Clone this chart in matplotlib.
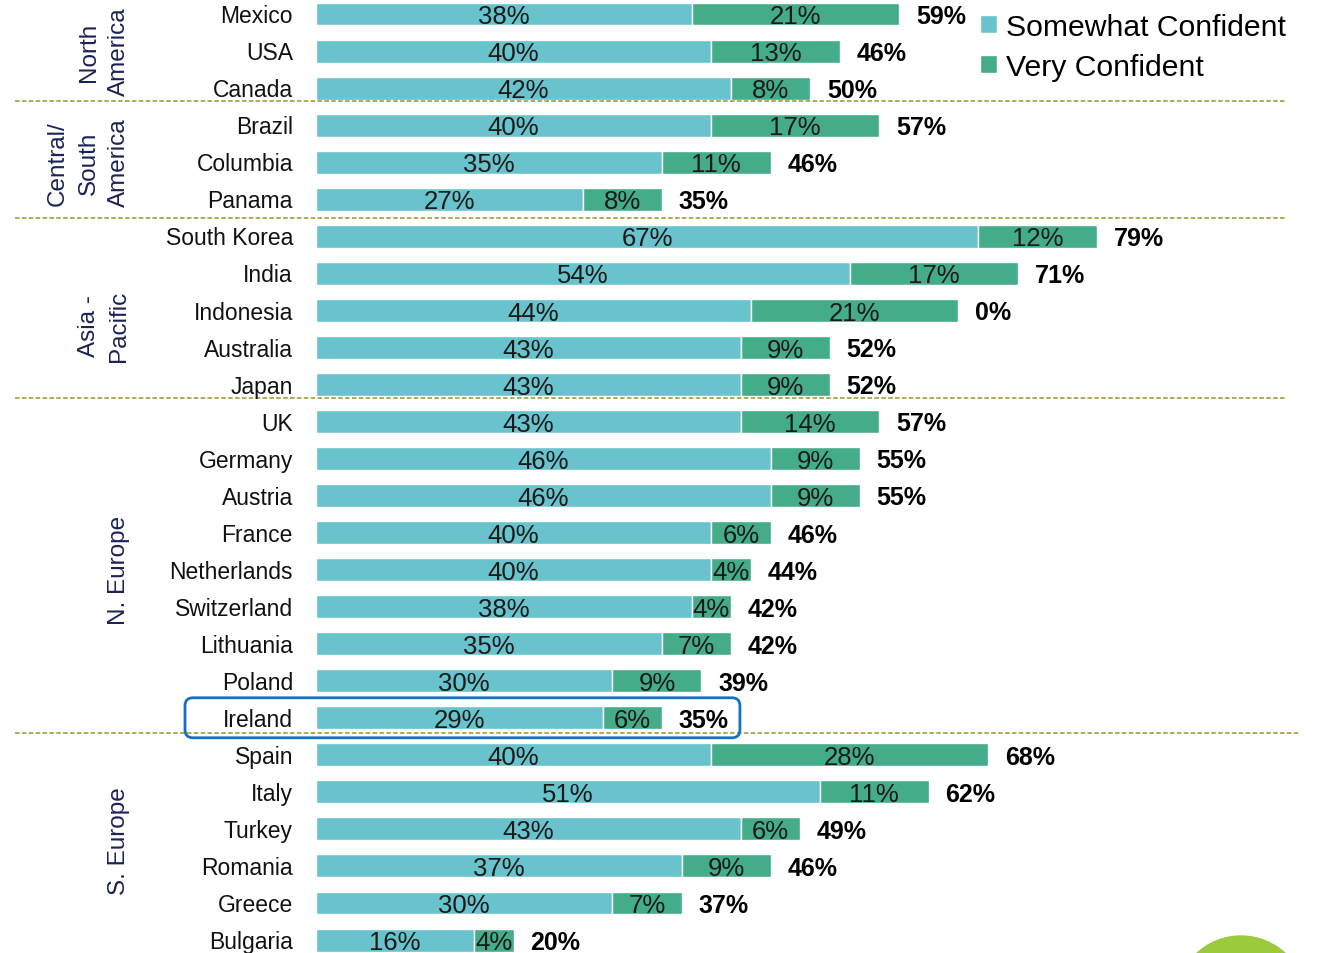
import matplotlib
matplotlib.use("Agg")
import matplotlib.pyplot as plt
import matplotlib.patches as mpatches
from matplotlib.transforms import IdentityTransform, offset_copy

countries = ["Mexico", "USA", "Canada", "Brazil", "Columbia", "Panama",
             "South Korea", "India", "Indonesia", "Australia", "Japan",
             "UK", "Germany", "Austria", "France", "Netherlands", "Switzerland",
             "Lithuania", "Poland", "Ireland",
             "Spain", "Italy", "Turkey", "Romania", "Greece", "Bulgaria"]
somewhat = [38, 40, 42, 40, 35, 27, 67, 54, 44, 43, 43, 43, 46, 46, 40, 40, 38, 35, 30, 29,
            40, 51, 43, 37, 30, 16]
very = [21, 13, 8, 17, 11, 8, 12, 17, 21, 9, 9, 14, 9, 9, 6, 4, 4, 7, 9, 6,
        28, 11, 6, 9, 7, 4]
totals = ["59%", "46%", "50%", "57%", "46%", "35%", "79%", "71%", "0%", "52%", "52%",
          "57%", "55%", "55%", "46%", "44%", "42%", "42%", "39%", "35%",
          "68%", "62%", "49%", "46%", "37%", "20%"]
groups = ["North\nAmerica", "Central/\nSouth\nAmerica", "Asia -\nPacific", "N. Europe", "S. Europe"]
group_sizes = [3, 3, 5, 9, 6]
series_names = ["Somewhat Confident", "Very Confident"]
highlight = "Ireland"

C_SOME = "#68C3CC"
C_VERY = "#45AC89"
NAVY = "#1B2255"
FONT = "Liberation Sans"
CAP = 0.716  # cap height ratio of the font

fig = plt.figure(figsize=(13.19, 9.54), dpi=100)
ax = fig.add_axes([0, 0, 1, 1])
ax.set_xlim(-31.98, 101.5)
ax.set_ylim(25.35, -0.405)
ax.axis("off")


def ctext(x, yv, s, size, **kw):
    """Text whose capital letters are vertically centred on yv."""
    tr = offset_copy(ax.transData, fig=fig, y=-size * CAP / 2, units="points")
    return ax.text(x, yv, s, va="baseline", fontsize=size, family=FONT, transform=tr, **kw)


y = list(range(len(countries)))
b1 = ax.barh(y, somewhat, height=0.62, color=C_SOME, edgecolor="white", linewidth=1.0,
             label=series_names[0])
b2 = ax.barh(y, very, left=somewhat, height=0.62, color=C_VERY, edgecolor="white",
             linewidth=1.0, label=series_names[1])

for i, (c, s, v, t) in enumerate(zip(countries, somewhat, very, totals)):
    ctext(-2.33, i, c, 16.5, ha="right", color="#111111")
    ctext(s / 2, i, f"{s}%", 18.5, ha="center", color="#1a1a1a")
    ctext(s + v / 2, i, f"{v}%", 18.5, ha="center", color="#1a1a1a")
    ctext(s + v + 1.7, i, t, 18, ha="left", fontweight="bold", color="#000000")

# group labels and separators
sep_offsets = [-0.15, 0.0, -0.13, -0.09]
start = 0
for gi, (g, n) in enumerate(zip(groups, group_sizes)):
    center = start + (n - 1) / 2
    if gi == 2:
        center += 0.4
    if gi == 4:
        center -= 0.2
    ax.text(-18.8, center, g, rotation=90, ha="right", va="center", fontsize=17.5,
            family=FONT, color=NAVY, linespacing=1.5, multialignment="center")
    start += n
    if gi < len(groups) - 1:
        yy = start - 0.5 + sep_offsets[gi]
        x1 = 98.1 if gi < 3 else 99.6
        ax.plot([-30.47, x1], [yy, yy], ls=(0, (3, 1.5)), color="#969630", lw=1.1)

leg = ax.legend(handles=[b1, b2], labels=series_names, loc="upper left",
                bbox_to_anchor=(980 / 1319, 1 - 14 / 954), bbox_transform=fig.transFigure,
                frameon=False, prop={"family": FONT, "size": 21.7}, handlelength=0.55,
                handleheight=0.55, handletextpad=0.3, labelspacing=0.4, borderpad=0,
                borderaxespad=0)

# highlight box around Ireland
fig.canvas.draw()
idx = countries.index(highlight)
x0, y0 = ax.transData.transform((-13.26, idx + 0.54))
x1, y1 = ax.transData.transform((42.9, idx - 0.54))
box = mpatches.FancyBboxPatch((x0, y0), x1 - x0, y1 - y0,
                              boxstyle="round,pad=0,rounding_size=8",
                              transform=IdentityTransform(), fill=False,
                              edgecolor="#1570BE", linewidth=2.0)
fig.add_artist(box)

# decorative green circle at bottom right
circ = mpatches.Circle((1241, -48), 65, transform=IdentityTransform(), color="#9BCB3C")
fig.add_artist(circ)

fig.savefig("out.png", dpi=100)
